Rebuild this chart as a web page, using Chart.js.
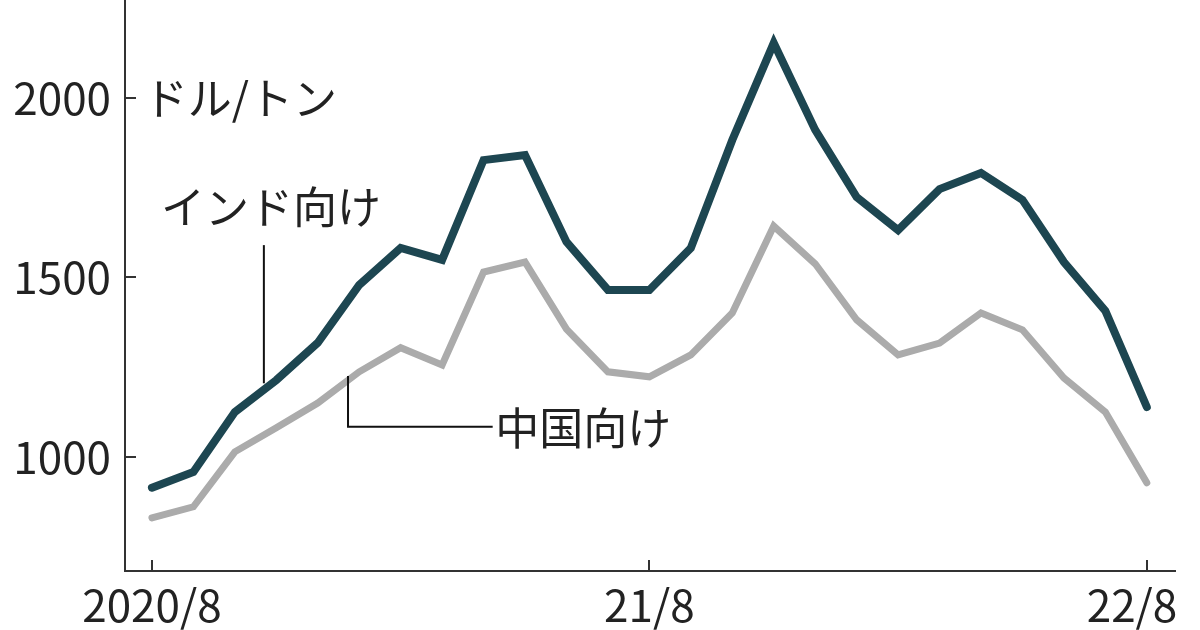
<!DOCTYPE html>
<html lang="ja">
<head>
<meta charset="utf-8">
<script src="https://cdn.jsdelivr.net/npm/chart.js@4.4.0/dist/chart.umd.min.js"></script>
<style>
  html, body { margin: 0; padding: 0; background: #fff; }
  #wrap { width: 1200px; height: 630px; }
</style>
</head>
<body>
<div id="wrap"><canvas id="chart"></canvas></div>
<script>
// --- Data (monthly, 2020/8 .. 22/8) ---
const months = [
  '2020/8', '20/9', '20/10', '20/11', '20/12', '21/1', '21/2', '21/3', '21/4',
  '21/5', '21/6', '21/7', '21/8', '21/9', '21/10', '21/11', '21/12', '22/1',
  '22/2', '22/3', '22/4', '22/5', '22/6', '22/7', '22/8'
];
const indiaPrice = [
  914, 958, 1125, 1214, 1318, 1479, 1582, 1549, 1827, 1841, 1599, 1465,
  1465, 1582, 1883, 2153, 1911, 1724, 1632, 1746, 1791, 1716, 1543, 1407, 1139
];
const chinaPrice = [
  830, 861, 1014, 1081, 1150, 1237, 1304, 1256, 1515, 1543, 1356, 1237,
  1223, 1284, 1401, 1643, 1538, 1382, 1284, 1317, 1401, 1354, 1220, 1125, 928
];
const xTickIndex = [0, 12, 24];
const xTickLabels = ['2020/8', '21/8', '22/8   ']; // trailing spaces nudge the last label left like the original
const yTicks = [1000, 1500, 2000];

// --- Styles ---
const numFont = '"Noto Sans CJK JP", sans-serif';
const jpFont = '"Noto Sans CJK JP", sans-serif';
const inkColor = '#222';

// tick marks sit inside the plot, so draw them ourselves from the scales
const innerTicks = {
  id: 'innerTicks',
  afterDraw(chart) {
    const { ctx, chartArea, scales } = chart;
    ctx.save();
    ctx.strokeStyle = '#333';
    ctx.lineWidth = 2;
    yTicks.forEach(v => {
      const y = Math.round(scales.y.getPixelForValue(v));
      ctx.beginPath();
      ctx.moveTo(chartArea.left, y);
      ctx.lineTo(chartArea.left + 11, y);
      ctx.stroke();
    });
    xTickIndex.forEach(v => {
      const x = Math.round(scales.x.getPixelForValue(v));
      ctx.beginPath();
      ctx.moveTo(x, chartArea.bottom);
      ctx.lineTo(x, chartArea.bottom - 11);
      ctx.stroke();
    });
    ctx.restore();
  }
};

// unit label, series labels and their leader lines
const labels = {
  id: 'labels',
  afterDraw(chart) {
    const { ctx, scales } = chart;
    const px = v => scales.x.getPixelForValue(v);
    const py = v => scales.y.getPixelForValue(v);
    ctx.save();
    ctx.strokeStyle = '#111';
    ctx.lineWidth = 2;
    // India leader
    ctx.beginPath();
    ctx.moveTo(px(2.7), py(1590));
    ctx.lineTo(px(2.7), py(1205));
    ctx.stroke();
    // China leader
    ctx.beginPath();
    ctx.moveTo(px(4.73), py(1225));
    ctx.lineTo(px(4.73), py(1084));
    ctx.lineTo(px(8.22), py(1084));
    ctx.stroke();

    ctx.fillStyle = inkColor;
    ctx.textBaseline = 'middle';
    ctx.textAlign = 'left';
    ctx.font = '44px ' + jpFont;
    ctx.fillText('ドル/トン', px(-0.2), py(2000));
    ctx.fillText('インド向け', px(0.22), py(1696));
    ctx.fillText('中国向け', px(8.28), py(1081));
    ctx.restore();
  }
};

const ctx = document.getElementById('chart').getContext('2d');
new Chart(ctx, {
  type: 'line',
  data: {
    datasets: [
      {
        label: 'インド向け',
        data: indiaPrice.map((v, i) => ({ x: i, y: v })),
        borderColor: '#1d4651',
        borderWidth: 8,
        pointRadius: 0,
        tension: 0,
        borderJoinStyle: 'miter',
        borderCapStyle: 'round'
      },
      {
        label: '中国向け',
        data: chinaPrice.map((v, i) => ({ x: i, y: v })),
        borderColor: '#ababab',
        borderWidth: 7,
        pointRadius: 0,
        tension: 0,
        borderJoinStyle: 'miter',
        borderCapStyle: 'round'
      }
    ]
  },
  options: {
    responsive: true,
    maintainAspectRatio: false,
    devicePixelRatio: 1,
    animation: false,
    layout: { padding: { top: 0, right: 25, bottom: 0, left: 0 } },
    plugins: {
      legend: { display: false },
      title: { display: false },
      tooltip: { enabled: false }
    },
    scales: {
      x: {
        type: 'linear',
        min: -0.65,
        max: 24.68,
        afterBuildTicks: scale => { scale.ticks = xTickIndex.map(v => ({ value: v })); },
        afterFit: scale => {
          scale.height = 59;
          scale.paddingLeft = 0;
          scale.paddingRight = 0;
        },
        grid: { drawOnChartArea: false, drawTicks: false },
        border: { display: true, color: '#333', width: 2 },
        ticks: {
          autoSkip: false,
          maxRotation: 0,
          padding: 8,
          color: inkColor,
          font: { family: numFont, size: 44 },
          callback: v => xTickLabels[xTickIndex.indexOf(v)]
        }
      },
      y: {
        min: 682,
        max: 2273,
        afterBuildTicks: scale => { scale.ticks = yTicks.map(v => ({ value: v })); },
        afterFit: scale => {
          scale.width = 125;
          scale.paddingTop = 0;
          scale.paddingBottom = 0;
        },
        grid: { drawOnChartArea: false, drawTicks: false },
        border: { display: true, color: '#333', width: 2 },
        ticks: {
          padding: 14,
          color: inkColor,
          font: { family: numFont, size: 44 },
          callback: v => String(v)
        }
      }
    }
  },
  plugins: [innerTicks, labels]
});
</script>
</body>
</html>
